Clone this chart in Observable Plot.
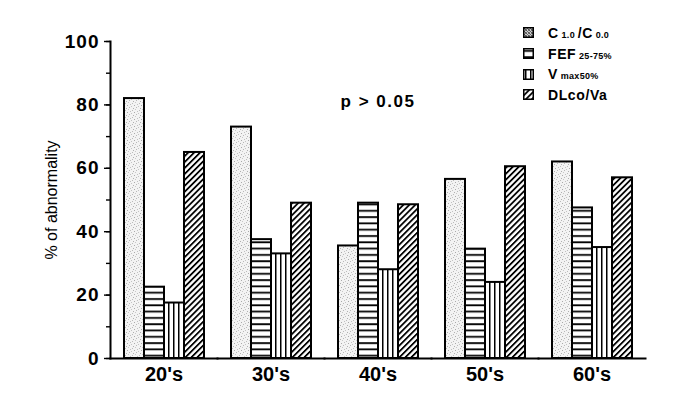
<!DOCTYPE html>
<html><head><meta charset="utf-8">
<script src="https://cdn.jsdelivr.net/npm/d3@7"></script>
<script src="https://cdn.jsdelivr.net/npm/@observablehq/plot@0.6"></script>
<style>
body{margin:0;background:#fff;}
#wrap{position:relative;width:682px;height:397px;font-family:"Liberation Sans",Arial,sans-serif;}
#legend{position:absolute;left:523px;top:22.5px;}
.row{display:flex;align-items:center;height:20.7px;}
.sw{width:11px;height:11px;margin-right:14px;display:block}
.lab{font-weight:bold;font-size:14px;letter-spacing:0.6px;white-space:nowrap;color:#000}
.sub{font-size:9px;letter-spacing:0.3px}
#chart g[aria-label="y-axis label"] text{font-weight:normal;font-size:16px;}
#chart g[aria-label="text"] text{letter-spacing:1.5px;}
#chart g[aria-label="y-axis tick label"] text{letter-spacing:1px;}
</style></head><body>
<svg width="0" height="0" style="position:absolute"><defs>
<pattern id="pC" width="7" height="7" patternUnits="userSpaceOnUse">
 <rect width="7" height="7" fill="#f3f3f3"/>
 <rect x="0" y="0" width="1" height="1" fill="#aaa"/>
 <rect x="4" y="1" width="1" height="1" fill="#c4c4c4"/>
 <rect x="2" y="2" width="1" height="1" fill="#b8b8b8"/>
 <rect x="6" y="3" width="1" height="1" fill="#b0b0b0"/>
 <rect x="1" y="4" width="1" height="1" fill="#c8c8c8"/>
 <rect x="5" y="5" width="1" height="1" fill="#bbb"/>
 <rect x="3" y="6" width="1" height="1" fill="#c0c0c0"/>
</pattern>
<pattern id="pCs" width="3" height="3" patternUnits="userSpaceOnUse">
 <rect width="3" height="3" fill="#ccc"/>
 <rect x="0" y="0" width="1" height="1" fill="#555"/>
 <rect x="2" y="0" width="1" height="1" fill="#777"/>
 <rect x="1" y="1" width="1" height="1" fill="#666"/>
 <rect x="0" y="2" width="1" height="1" fill="#777"/>
 <rect x="2" y="2" width="1" height="1" fill="#555"/>
</pattern>
<pattern id="pFEF" width="6" height="6.3" patternUnits="userSpaceOnUse">
 <rect width="6" height="6.3" fill="#fff"/>
 <rect y="2" width="6" height="1.8" fill="#000"/>
</pattern>
<pattern id="pV" width="5" height="5" patternUnits="userSpaceOnUse">
 <rect width="5" height="5" fill="#fff"/>
 <rect x="2" width="1.5" height="5" fill="#000"/>
</pattern>
<pattern id="pDL" width="4.2" height="4.2" patternUnits="userSpaceOnUse" patternTransform="rotate(45)">
 <rect width="4.2" height="4.2" fill="#fff"/>
 <rect x="0" width="1.8" height="4.2" fill="#000"/>
</pattern>
</defs></svg>
<div id="wrap"><div id="chart"></div><div id="legend"></div></div>
<script>
// ---- data ----
const groups = ["20's", "30's", "40's", "50's", "60's"];
const seriesKeys = ["C", "FEF", "Vmax", "DL"];
const cRatio = [82, 73, 35.5, 56.5, 62];
const fef = [22.5, 37.5, 49, 34.5, 47.5];
const vmax = [17.5, 33, 28, 24, 35];
const dlcoVa = [65, 49, 48.5, 60.5, 57];
const yTicks = [0, 20, 40, 60, 80, 100];
const yMinorTicks = [0, 10, 20, 30, 40, 50, 60, 70, 80, 90, 100];
const yLabel = "% of abnormality";
const annotation = {group: "40's", value: 81, text: "p > 0.05"};
const legendParts = [
  [["C", false], [" 1.0 ", true], ["/C", false], [" 0.0", true]],
  [["FEF", false], [" 25-75%", true]],
  [["V", false], [" max50%", true]],
  [["DLco/Va", false]]
];
const patternIds = ["pC", "pFEF", "pV", "pDL"];
const legendPatternIds = ["pCs", "pFEF", "pV", "pDL"];

const seriesValues = [cRatio, fef, vmax, dlcoVa];
const table = groups.flatMap((g, i) =>
  seriesKeys.map((s, j) => ({group: g, series: s, value: seriesValues[j][i]})));

const chart = Plot.plot({
  width: 682, height: 397,
  marginTop: 41, marginBottom: 39, marginLeft: 109, marginRight: 36,
  style: {fontFamily: '"Liberation Sans", Arial, sans-serif', background: "white", color: "black"},
  fx: {domain: groups, paddingInner: 0, paddingOuter: 0},
  x: {domain: seriesKeys, paddingInner: 0, paddingOuter: 0.56, axis: null},
  y: {domain: [0, 100]},
  color: {domain: seriesKeys, range: patternIds.map(id => `url(#${id})`)},
  marks: [
    Plot.barY(table, {fx: "group", x: "series", y: "value", fill: "series", stroke: "black", strokeWidth: 2}),
    Plot.frame({anchor: "bottom", strokeWidth: 2}),
    Plot.frame({anchor: "left", strokeWidth: 2, facet: "super"}),
    Plot.axisY({ticks: yMinorTicks, tickSize: 4, strokeWidth: 1.4, text: null, label: null}),
    Plot.axisY({ticks: yTicks, tickSize: 6, strokeWidth: 1.4, tickPadding: 5, fontSize: 19, fontWeight: "bold",
      label: yLabel, labelAnchor: "center", labelArrow: false, labelOffset: 65}),
    Plot.axisFx({anchor: "bottom", tickSize: 0, tickPadding: 8, fontSize: 20, fontWeight: "bold", label: null}),
    Plot.text([annotation], {fx: "group", y: "value", text: "text", fontSize: 17, fontWeight: "bold"})
  ]
});
document.getElementById("chart").appendChild(chart);

const legend = d3.select("#legend");
legendParts.forEach((parts, i) => {
  const row = legend.append("div").attr("class", "row");
  const sw = row.append("svg").attr("class", "sw").attr("width", 11).attr("height", 11);
  sw.append("rect").attr("x", 0.75).attr("y", 0.75).attr("width", 9.5).attr("height", 9.5)
    .attr("fill", `url(#${legendPatternIds[i]})`).attr("stroke", "black").attr("stroke-width", 1.5);
  const lab = row.append("span").attr("class", "lab");
  parts.forEach(([t, sub]) => lab.append("span").attr("class", sub ? "sub" : null).text(t));
});
</script>
</body></html>
